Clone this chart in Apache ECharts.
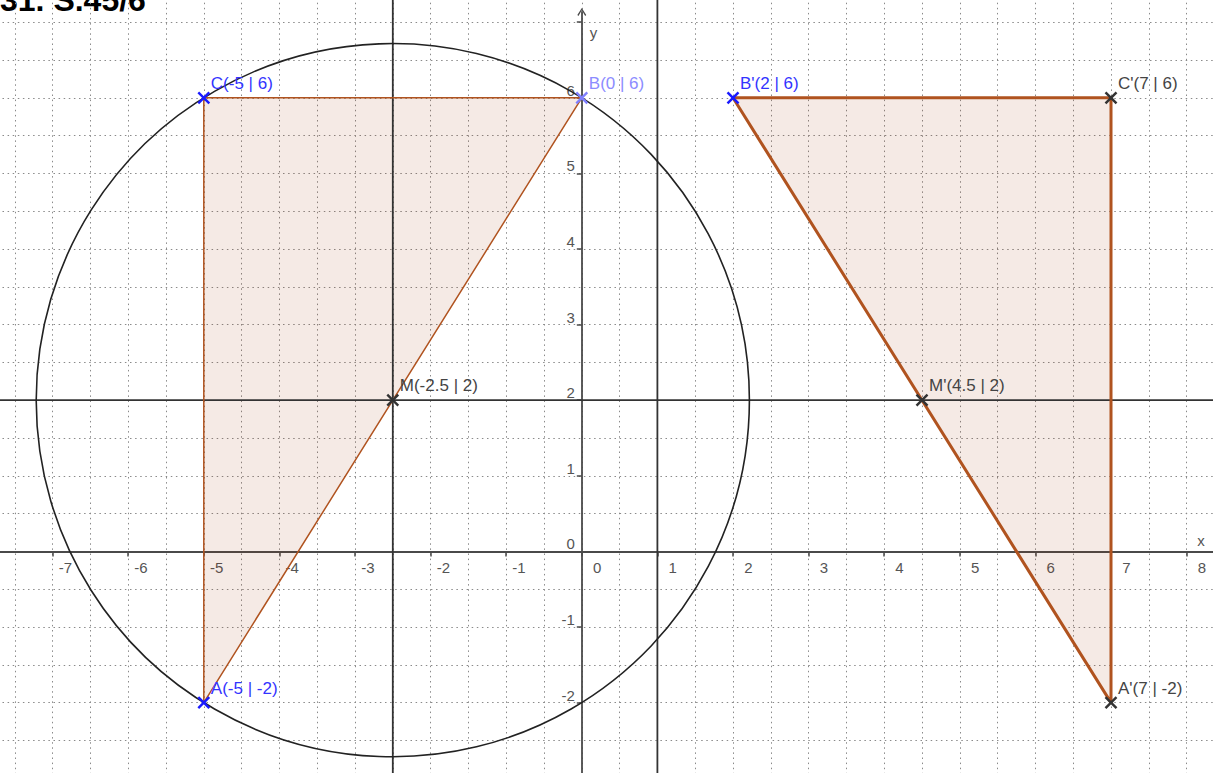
<!DOCTYPE html>
<html>
<head>
<meta charset="utf-8">
<script src="https://cdn.jsdelivr.net/npm/echarts@6/dist/echarts.min.js"></script>
<style>html,body{margin:0;padding:0;background:#fff}#c{width:1213px;height:773px}</style>
</head>
<body>
<div id="c"></div>
<script>
// ---- data ----
const titleText = '31. S.45/6';
const pointLabels = ['A(-5 | -2)', 'B(0 | 6)', 'C(-5 | 6)', 'M(-2.5 | 2)', "A'(7 | -2)", "B'(2 | 6)", "C'(7 | 6)", "M'(4.5 | 2)"];
const pointX = [-5, 0, -5, -2.5, 7, 2, 7, 4.5];
const pointY = [-2, 6, 6, 2, -2, 6, 6, 2];
const triangleX = [-5, 0, -5];
const triangleY = [-2, 6, 6];
const imageX = [7, 2, 7];
const imageY = [-2, 6, 6];
const circleCenter = [-2.5, 2];
const circleThrough = [0, 6];
const verticalLinesX = [-2.5, 1];
const horizontalLinesY = [2];
const hiddenXTickLabels = [-8, 9];
const hiddenYTickLabels = [-3, 7, 8];

// ---- styles ----
const pointStyle = ['blue', 'light', 'blue', 'dark', 'dark', 'blue', 'dark', 'dark'];
const crossColor = {blue: '#1a1aff', light: '#8080ff', dark: '#333333'};
const textColor = {blue: '#3333ff', light: '#8c8cff', dark: '#444444'};
const FONT = '"Liberation Sans", Arial, sans-serif';

const W = 1213, H = 773;
const originX = 581.8, originY = 551.4, unit = 75.6;
const xRange = [-8, 9], yRange = [-3, 8];
const gLeft = originX + xRange[0] * unit;
const gRight = W - (originX + xRange[1] * unit);
const gTop = originY - yRange[1] * unit;
const gBottom = H - (originY - yRange[0] * unit);
const axisTop = 12;
const yAxis2Max = (originY - axisTop) / unit;

const dotted = {color: '#8a8a8a', width: 1, type: [1.5, 3.6]};

const chart = echarts.init(document.getElementById('c'), null, {renderer: 'svg'});

const polyData = [
  [triangleX[0], triangleY[0], triangleX[1], triangleY[1], triangleX[2], triangleY[2]],
  [imageX[0], imageY[0], imageX[1], imageY[1], imageX[2], imageY[2]]
];
const edgeWidth = [1.5, 3];

function polyPoints(api) {
  return [0, 1, 2].map(i => api.coord([api.value(2 * i), api.value(2 * i + 1)]));
}

chart.setOption({
  animation: false,
  backgroundColor: '#ffffff',
  graphic: [{
    type: 'text', left: 0, top: -16,
    style: {text: titleText, font: 'bold 32px ' + FONT, fill: '#000'}
  }],
  grid: [
    {left: gLeft, right: gRight, top: gTop, bottom: gBottom, outerBoundsMode: 'none', containLabel: false},
    {left: gLeft, right: gRight, top: axisTop, bottom: gBottom, outerBoundsMode: 'none', containLabel: false}
  ],
  xAxis: [{
    type: 'value', gridIndex: 0, min: xRange[0], max: xRange[1], interval: 1,
    position: 'bottom', offset: yRange[0] * unit,
    axisLine: {show: true, onZero: false, lineStyle: {color: '#4a4a4a', width: 1.8}},
    axisTick: {show: true, length: 5, lineStyle: {color: '#4a4a4a', width: 1.5}},
    minorTick: {show: false, splitNumber: 2},
    splitLine: {show: true, lineStyle: dotted},
    minorSplitLine: {show: true, lineStyle: dotted},
    axisLabel: {
      show: true, margin: 9, align: 'center',
      formatter: v => hiddenXTickLabels.indexOf(v) >= 0 ? '' : '{r|' + v + '}',
      rich: {r: {width: 39, align: 'right', fontSize: 15, lineHeight: 15, color: '#555', fontFamily: FONT}}
    },
    name: 'x', nameLocation: 'end', nameGap: -65,
    nameTextStyle: {align: 'left', verticalAlign: 'bottom', padding: [0, 0, 3, 0], fontSize: 15, color: '#555', fontFamily: FONT}
  }, {
    type: 'value', gridIndex: 1, min: xRange[0], max: xRange[1], show: false
  }],
  yAxis: [{
    type: 'value', gridIndex: 0, min: yRange[0], max: yRange[1], interval: 1,
    position: 'left', offset: xRange[0] * unit,
    axisLine: {show: true, onZero: false, lineStyle: {color: '#4a4a4a', width: 1.8, opacity: 0}},
    axisTick: {show: true, length: 5, lineStyle: {color: '#4a4a4a', width: 1.5}},
    minorTick: {show: false, splitNumber: 2},
    splitLine: {show: true, lineStyle: dotted},
    minorSplitLine: {show: true, lineStyle: dotted},
    axisLabel: {
      show: true, margin: 7, verticalAlign: 'bottom', fontSize: 15, lineHeight: 15,
      color: '#555', fontFamily: FONT,
      formatter: v => hiddenYTickLabels.indexOf(v) >= 0 ? '' : String(v)
    }
  }, {
    type: 'value', gridIndex: 1, min: yRange[0], max: yAxis2Max,
    axisLine: {
      show: true, onZero: true, lineStyle: {color: '#4a4a4a', width: 1.8},
      symbol: ['none', 'path://M5,0 L10,8 L8.8,9 L5,2.4 L1.2,9 L0,8 Z'], symbolSize: [10, 8]
    },
    axisTick: {show: false}, axisLabel: {show: false}, splitLine: {show: false},
    name: 'y', nameLocation: 'end', nameGap: -20,
    nameTextStyle: {align: 'left', verticalAlign: 'middle', padding: [0, 0, 0, 8], fontSize: 15, color: '#555', fontFamily: FONT}
  }],
  series: [
    { // triangle fills
      type: 'custom', xAxisIndex: 0, yAxisIndex: 0, z: 1,
      encode: {x: [0, 2, 4], y: [1, 3, 5]},
      data: polyData,
      renderItem: (params, api) => ({
        type: 'polygon', shape: {points: polyPoints(api)},
        style: {fill: 'rgba(153,51,0,0.1)', stroke: null}
      })
    },
    { // vertical lines
      type: 'custom', xAxisIndex: 0, yAxisIndex: 0, z: 2,
      data: verticalLinesX.map(x => [x, 0]),
      renderItem: (params, api) => {
        const p = api.coord([api.value(0), 0]);
        const cs = params.coordSys;
        return {type: 'line', shape: {x1: p[0], y1: cs.y, x2: p[0], y2: cs.y + cs.height},
          style: {stroke: '#333', lineWidth: 1.8}};
      }
    },
    { // horizontal lines
      type: 'custom', xAxisIndex: 0, yAxisIndex: 0, z: 2,
      data: horizontalLinesY.map(y => [0, y]),
      renderItem: (params, api) => {
        const p = api.coord([0, api.value(1)]);
        const cs = params.coordSys;
        return {type: 'line', shape: {x1: cs.x, y1: p[1], x2: cs.x + cs.width, y2: p[1]},
          style: {stroke: '#333', lineWidth: 1.8}};
      }
    },
    { // circle
      type: 'custom', xAxisIndex: 0, yAxisIndex: 0, z: 2,
      data: [[circleCenter[0], circleCenter[1], circleThrough[0], circleThrough[1]]],
      renderItem: (params, api) => {
        const c = api.coord([api.value(0), api.value(1)]);
        const p = api.coord([api.value(2), api.value(3)]);
        const r = Math.hypot(p[0] - c[0], p[1] - c[1]);
        return {type: 'circle', shape: {cx: c[0], cy: c[1], r: r},
          style: {fill: null, stroke: '#222', lineWidth: 1.6}};
      }
    },
    { // triangle edges
      type: 'custom', xAxisIndex: 0, yAxisIndex: 0, z: 3,
      encode: {x: [0, 2, 4], y: [1, 3, 5]},
      data: polyData,
      renderItem: (params, api) => ({
        type: 'polygon', shape: {points: polyPoints(api)},
        style: {fill: null, stroke: '#b0531f', lineWidth: edgeWidth[params.dataIndex], lineJoin: 'round'}
      })
    },
    { // points
      type: 'custom', xAxisIndex: 0, yAxisIndex: 0, z: 4,
      data: pointX.map((x, i) => [x, pointY[i], i]),
      renderItem: (params, api) => {
        const i = api.value(2);
        const c = api.coord([api.value(0), api.value(1)]);
        const st = pointStyle[i];
        const s = 5.5;
        return {
          type: 'group',
          children: [
            {type: 'line', shape: {x1: c[0] - s, y1: c[1] - s, x2: c[0] + s, y2: c[1] + s},
              style: {stroke: crossColor[st], lineWidth: 2.4}},
            {type: 'line', shape: {x1: c[0] - s, y1: c[1] + s, x2: c[0] + s, y2: c[1] - s},
              style: {stroke: crossColor[st], lineWidth: 2.4}},
            {type: 'text', x: c[0] + 7, y: c[1] - 14.5,
              style: {text: pointLabels[i], fill: textColor[st], font: '17px ' + FONT,
                align: 'left', verticalAlign: 'middle'}}
          ]
        };
      }
    }
  ]
});
</script>
</body>
</html>
